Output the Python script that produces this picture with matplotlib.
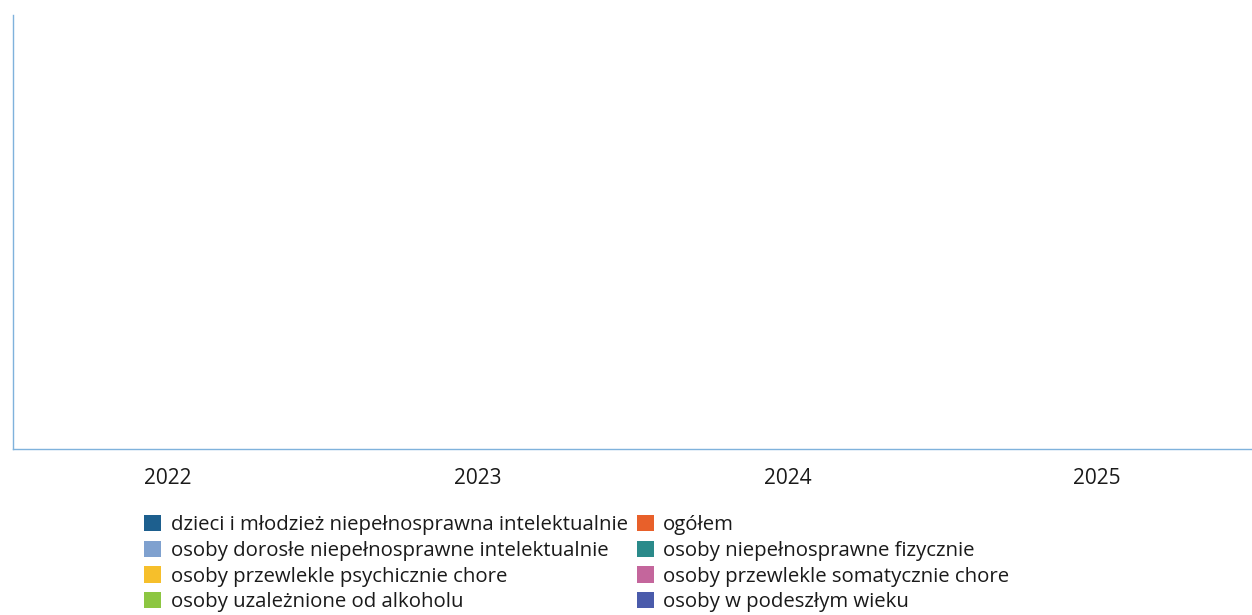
#!/usr/bin/env python3
"""Grouped bar chart (no data filled in yet) for groups of beneficiaries, 2022-2025."""

import numpy as np
import matplotlib
matplotlib.use("Agg")
import matplotlib.pyplot as plt

years = ["2022", "2023", "2024", "2025"]
groups = [
    "dzieci i młodzież niepełnosprawna intelektualnie",
    "osoby dorosłe niepełnosprawne intelektualnie",
    "osoby przewlekle psychicznie chore",
    "osoby uzależnione od alkoholu",
    "ogółem",
    "osoby niepełnosprawne fizycznie",
    "osoby przewlekle somatycznie chore",
    "osoby w podeszłym wieku",
]
# the source chart is empty: no values were entered for any year
values = {g: [0, 0, 0, 0] for g in groups}

colors = ["#1d5f8e", "#7fa1cf", "#f6bf2b", "#8cc641",
          "#e8602a", "#2a8a8a", "#c4669c", "#4a5bab"]

plt.rcParams["font.family"] = ["Open Sans", "DejaVu Sans"]

fig = plt.figure(figsize=(12.52, 6.15), dpi=100)
ax = fig.add_axes([0.0104, 0.27, 0.9896, 0.706])

x = np.arange(len(years))
width = 0.8 / len(groups)
for i, (g, c) in enumerate(zip(groups, colors)):
    ax.bar(x - 0.4 + width * (i + 0.5), values[g], width, color=c,
           linewidth=0, label=g)

ax.set_xlim(-0.5, len(years) - 0.5)
ax.set_ylim(0, 1)
ax.set_xticks(x)
ax.set_xticklabels(years, fontsize=15, color="#1a1a1a")
ax.tick_params(axis="x", length=0, pad=14)
ax.set_yticks([])
for side in ("top", "right"):
    ax.spines[side].set_visible(False)
for side in ("left", "bottom"):
    ax.spines[side].set_color("#7fb2dc")
    ax.spines[side].set_linewidth(1.0)

fig.legend(loc="upper left", bbox_to_anchor=(144 / 1252, 1 - 515 / 615),
           ncol=2, frameon=False, fontsize=14.7, handlelength=0.85,
           handleheight=0.85, handletextpad=0.45, columnspacing=0.45,
           labelspacing=0.27, borderpad=0, borderaxespad=0,
           labelcolor="#1a1a1a")

fig.savefig("out.png", dpi=100)
